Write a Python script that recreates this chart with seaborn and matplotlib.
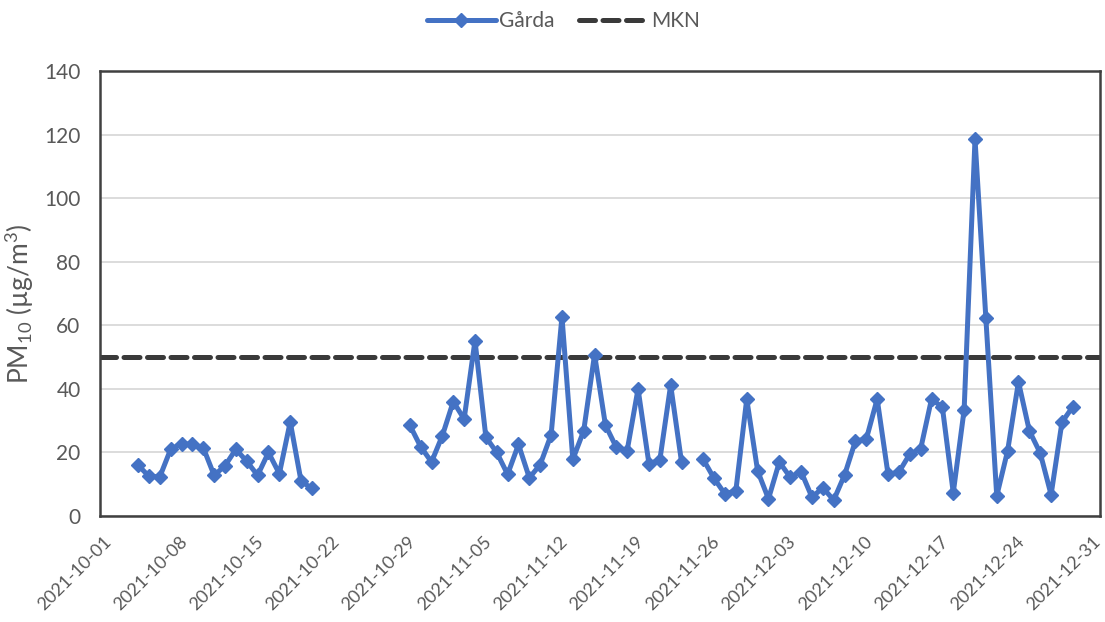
import numpy as np
import pandas as pd
import matplotlib
matplotlib.use("Agg")
import matplotlib.pyplot as plt
import matplotlib.dates as mdates
from matplotlib.transforms import ScaledTranslation
import seaborn as sns

# Daily PM10 at Gårda, Oct-Dec 2021 (NaN = no measurement)
seg1_dates = pd.date_range("2021-10-04", "2021-10-20", freq="D")
seg1_vals = [16.0, 12.5, 12.3, 21.0, 22.8, 22.5, 21.5, 12.8, 15.8, 21.0,
             17.2, 12.8, 20.0, 13.3, 29.6, 10.9, 8.7]

seg2_dates = pd.date_range("2021-10-29", "2021-11-23", freq="D")
seg2_vals = [28.6, 21.8, 17.0, 25.3, 36.0, 30.5, 55.2, 24.8, 20.0, 13.1,
             22.5, 12.0, 16.2, 25.5, 62.7, 17.8, 26.8, 50.8, 28.6, 21.6,
             20.6, 40.0, 16.5, 17.5, 41.2, 17.0]

seg3_dates = pd.date_range("2021-11-25", "2021-12-29", freq="D")
seg3_vals = [17.8, 11.8, 6.9, 8.0, 36.8, 14.2, 5.4, 17.0, 12.2, 14.0,
             5.9, 8.9, 5.0, 12.9, 23.6, 24.2, 36.8, 13.1, 13.8, 19.5,
             21.1, 36.8, 34.2, 7.3, 33.4, 118.6, 62.2, 6.3, 20.5, 42.2,
             26.8, 19.8, 6.7, 29.5, 34.4]

mkn_limit = 50
series_name = "Gårda"
limit_name = "MKN"

tick_dates = pd.date_range("2021-10-01", "2021-12-31", freq="7D")

days = pd.date_range("2021-10-01", "2021-12-31", freq="D")
values = pd.Series(np.nan, index=days)
for d, v in [(seg1_dates, seg1_vals), (seg2_dates, seg2_vals), (seg3_dates, seg3_vals)]:
    values.loc[d] = v

# points sit in the middle of each day slot
df = pd.DataFrame({"date": days + pd.Timedelta(hours=12), "pm10": values.values})

sns.set_theme(style="white")
plt.rcParams["font.family"] = ["Lato", "DejaVu Sans"]
plt.rcParams["mathtext.fontset"] = "custom"
plt.rcParams["mathtext.rm"] = "Lato"
plt.rcParams["mathtext.it"] = "Lato"
plt.rcParams["mathtext.default"] = "rm"

grey = "#595959"
blue = "#4472C4"

fig = plt.figure(figsize=(11.05, 6.22), dpi=100)
ax = fig.add_axes([100 / 1105, 1 - 516 / 622, 1000 / 1105, 445 / 622])

ax.plot(df["date"], df["pm10"], color=blue, lw=3.6, marker="D", ms=7.5,
        mec=blue, mfc=blue, label=series_name, zorder=3)
ax.axhline(mkn_limit, color="#3a3a3a", lw=3.6, ls=(0, (3.2, 1.5)),
           label=limit_name, zorder=2, dash_capstyle="round")

ax.set_xlim(pd.Timestamp("2021-10-01"), pd.Timestamp("2022-01-01"))
ax.set_ylim(0, 140)
ax.set_yticks(np.arange(0, 141, 20))
ax.set_xticks(tick_dates)
ax.xaxis.set_major_formatter(mdates.DateFormatter("%Y-%m-%d"))
ax.yaxis.grid(True, color="#d9d9d9", lw=1.3)
ax.xaxis.grid(False)

ax.tick_params(axis="x", labelsize=13, colors=grey, length=0, pad=8)
ax.tick_params(axis="y", labelsize=15, colors=grey, length=0, pad=14)

shift = ScaledTranslation(0.03, -0.06, fig.dpi_scale_trans)
for lab in ax.get_xticklabels():
    lab.set_rotation(45)
    lab.set_ha("right")
    lab.set_rotation_mode("anchor")
    lab.set_transform(lab.get_transform() + shift)

for s in ax.spines.values():
    s.set_visible(True)
    s.set_color("#404040")
    s.set_linewidth(1.8)

ax.set_ylabel(r"PM$_{10}$ (µg/m$^{3}$)", fontsize=19, color=grey)
ax.yaxis.set_label_coords(-0.064, 0.476)

fig.legend(loc="upper center", bbox_to_anchor=(0.51, 1.012), ncol=2, frameon=False,
           fontsize=15, labelcolor=grey, handlelength=3.3, columnspacing=1.2,
           handletextpad=0.15)

fig.savefig("out.png", dpi=100)
